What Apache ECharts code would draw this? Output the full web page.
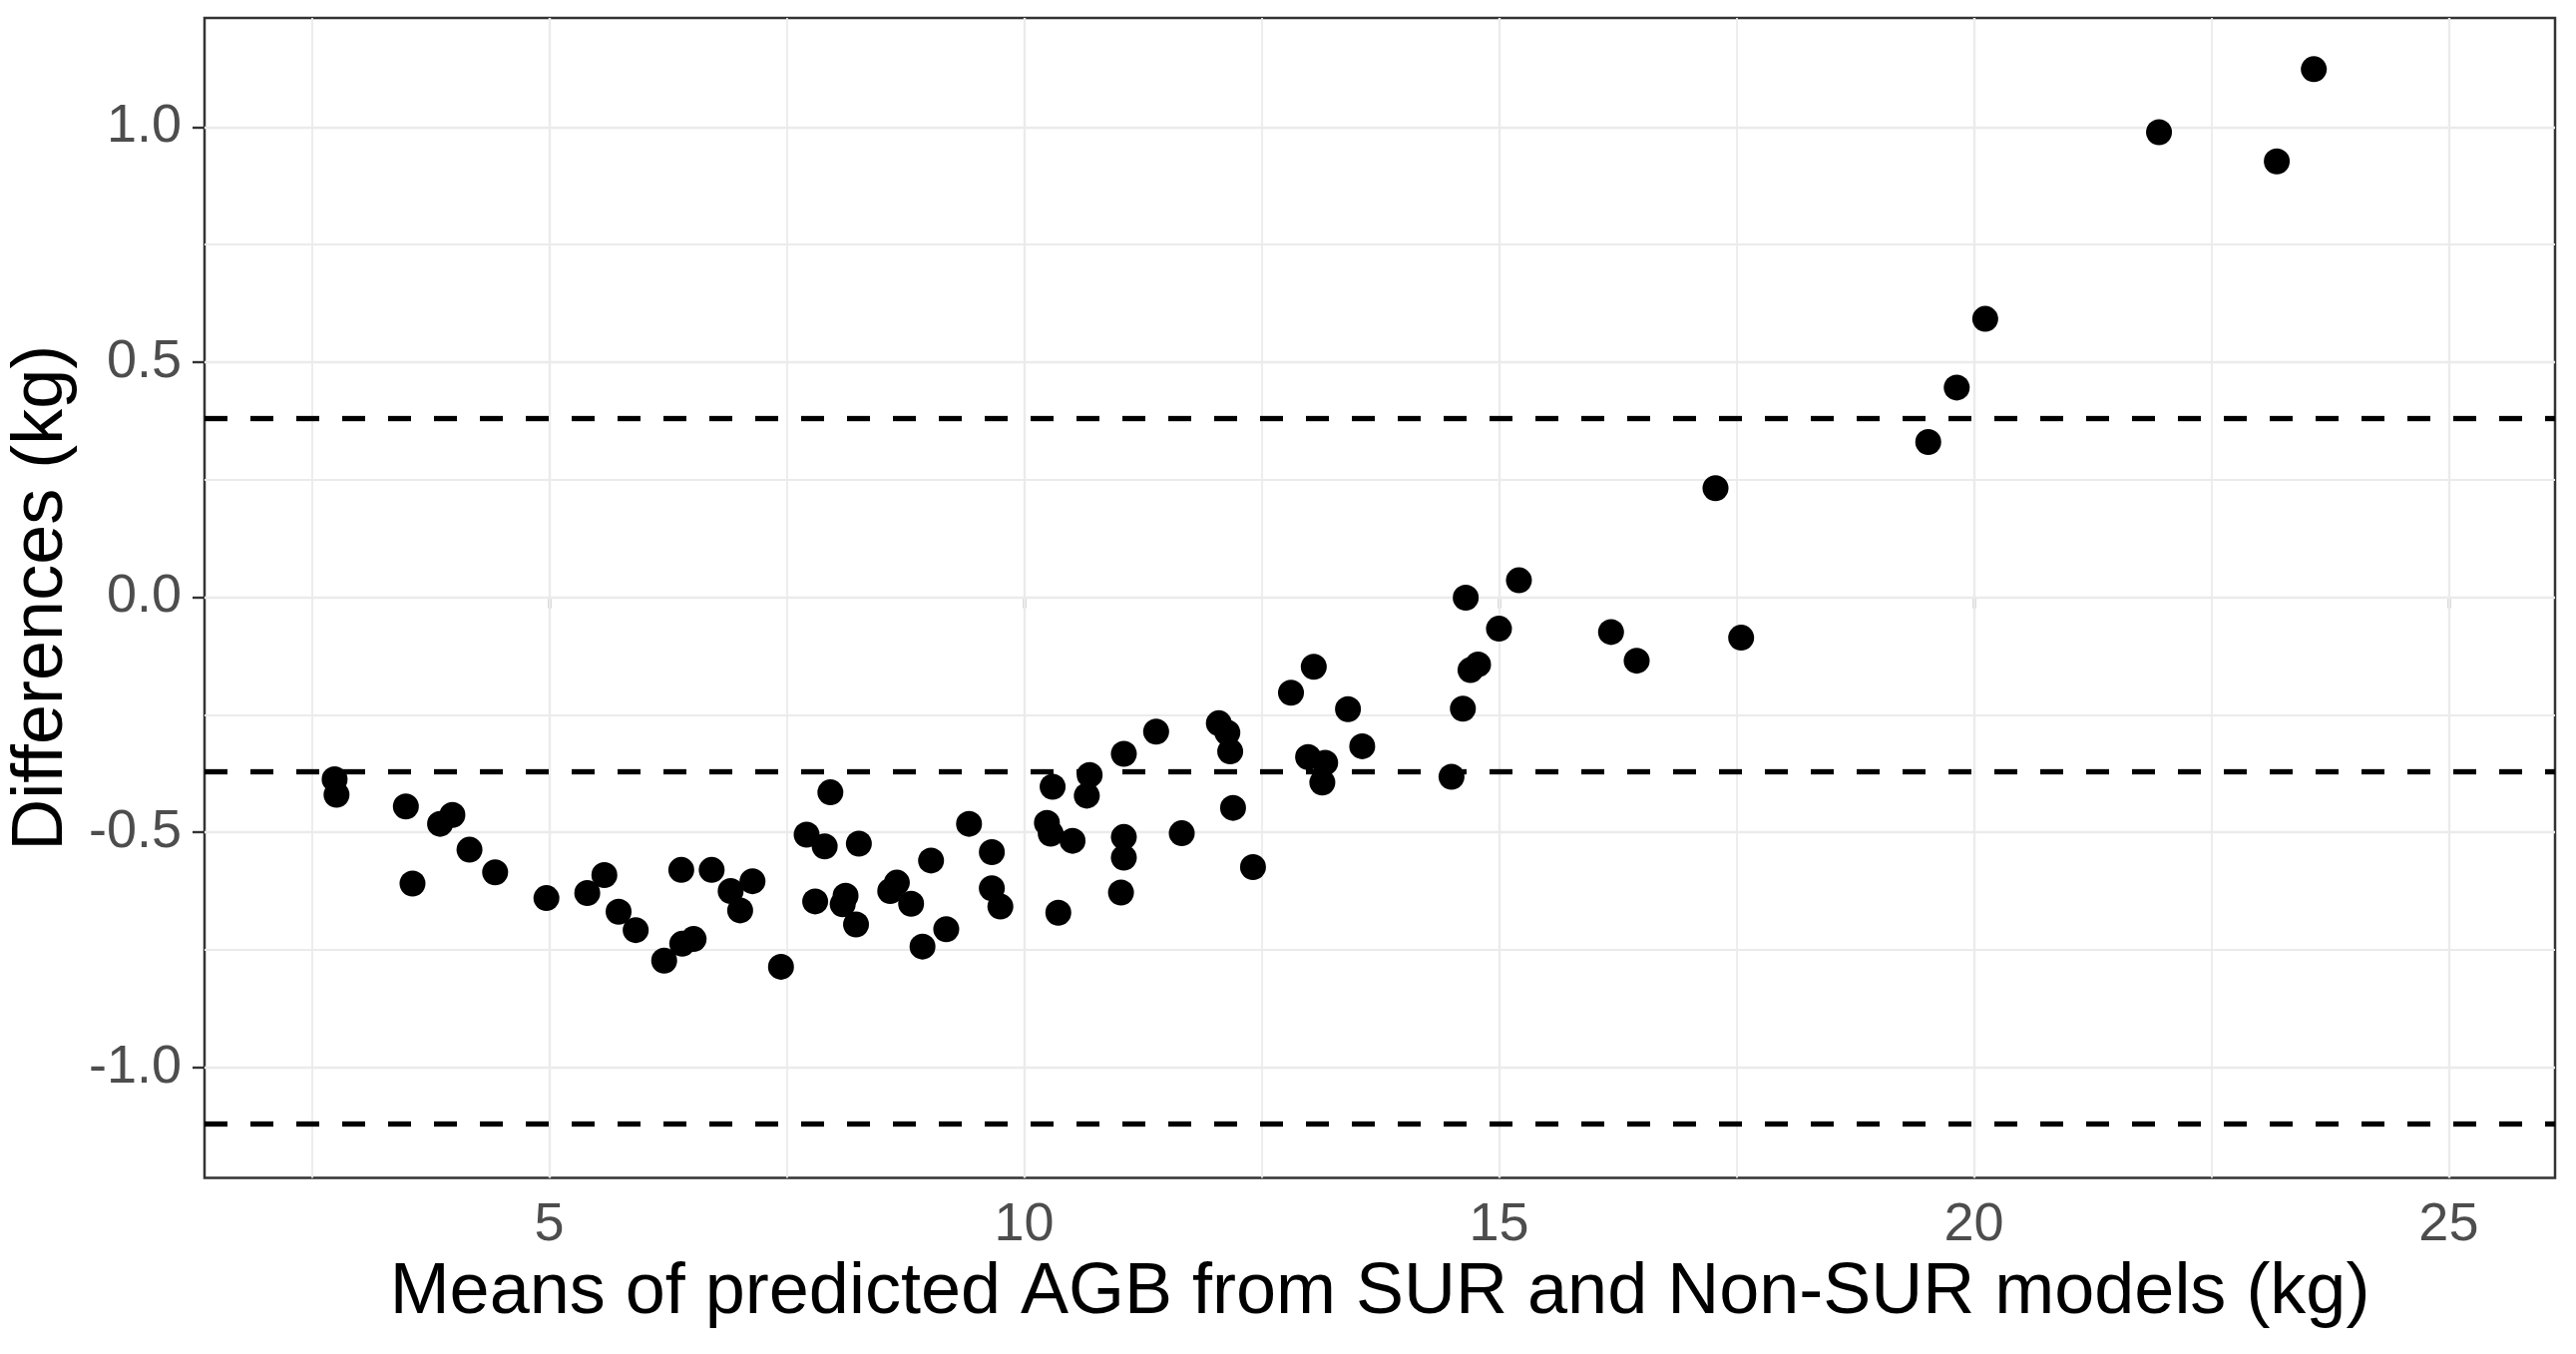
<!DOCTYPE html>
<html>
<head>
<meta charset="utf-8">
<script src="https://cdn.jsdelivr.net/npm/echarts@6/dist/echarts.min.js"></script>
<style>
html, body { margin: 0; padding: 0; background: #ffffff; }
#chart { width: 2582px; height: 1357px; }
</style>
</head>
<body>
<div id="chart"></div>
<script>
// Means of predicted AGB (x) and differences (y)
const meanAGB = [
  2.74, 2.76, 3.49, 3.56, 3.85, 3.98, 4.16, 4.43, 4.97, 5.40,
  5.58, 5.73, 5.91, 6.21, 6.40, 6.52, 6.39, 6.71, 6.91, 7.14,
  7.01, 7.44, 7.96, 7.71, 7.90, 8.26, 7.80, 8.12, 8.09, 8.23,
  8.66, 8.59, 8.81, 9.02, 8.93, 9.18, 9.42, 9.66, 9.66, 9.75,
  10.36, 10.30, 10.24, 10.28, 10.51, 10.69, 10.66, 11.05, 11.39, 11.05,
  11.05, 11.02, 11.66, 12.05, 12.14, 12.17, 12.20, 12.41, 12.81, 13.05,
  13.41, 13.56, 12.99, 13.17, 13.14, 14.50, 14.62, 14.65, 15.21, 15.00,
  14.70, 14.78, 16.18, 16.45, 17.28, 17.55, 19.52, 19.82, 20.12, 21.95,
  23.19, 23.58
];
const diffAGB = [
  -0.387, -0.420, -0.445, -0.609, -0.482, -0.463, -0.537, -0.585, -0.640, -0.629,
  -0.591, -0.669, -0.708, -0.773, -0.737, -0.727, -0.580, -0.580, -0.625, -0.604,
  -0.666, -0.786, -0.415, -0.505, -0.530, -0.524, -0.647, -0.635, -0.653, -0.696,
  -0.607, -0.625, -0.652, -0.560, -0.743, -0.706, -0.482, -0.542, -0.619, -0.658,
  -0.671, -0.403, -0.480, -0.503, -0.518, -0.378, -0.422, -0.333, -0.286, -0.510,
  -0.554, -0.628, -0.502, -0.268, -0.288, -0.328, -0.448, -0.574, -0.203, -0.148,
  -0.238, -0.317, -0.340, -0.352, -0.394, -0.382, -0.237, -0.001, 0.036, -0.067,
  -0.155, -0.143, -0.074, -0.135, 0.232, -0.086, 0.330, 0.446, 0.592, 0.989,
  0.927, 1.123
];
// Reference lines: mean difference and limits of agreement
const meanDiff = -0.374;
const upperLimit = 0.376;
const lowerLimit = -1.124;

// Axis ticks, gridlines and ranges
const xTicks = [5, 10, 15, 20, 25];
const xMinorGrid = [2.5, 7.5, 12.5, 17.5, 22.5];
const yTicks = [-1.0, -0.5, 0.0, 0.5, 1.0];
const yMinorGrid = [-0.75, -0.25, 0.25, 0.75];
const xRange = [1.37, 26.12];
const yRange = [-1.235, 1.232];

const xTitle = 'Means of predicted AGB from SUR and Non-SUR models (kg)';
const yTitle = 'Differences (kg)';

const FONT = "'Liberation Sans', Arial, sans-serif";
const points = meanAGB.map((x, i) => [x, diffAGB[i]]);

const chart = echarts.init(document.getElementById('chart'), null, { renderer: 'canvas' });

const gridMajorStyle = { color: '#EBEBEB', width: 2.4, type: 'solid' };
const gridMinorStyle = { color: '#EBEBEB', width: 1.8, type: 'solid' };

const option = {
  backgroundColor: '#ffffff',
  animation: false,
  grid: {
    left: 205, right: 21, top: 18, bottom: 176.5,
    containLabel: false,
    outerBoundsMode: 'none',
    show: true,
    borderColor: '#333333',
    borderWidth: 2.5,
    backgroundColor: 'transparent'
  },
  xAxis: {
    type: 'value',
    min: xRange[0], max: xRange[1],
    name: xTitle,
    nameLocation: 'middle',
    nameGap: 76,
    nameTextStyle: { color: '#000000', fontSize: 72, fontFamily: FONT },
    axisLine: { show: false },
    axisTick: { show: true, length: 11, customValues: xTicks, lineStyle: { color: '#333333', width: 2.4 } },
    axisLabel: { show: true, customValues: xTicks, margin: 21, color: '#4D4D4D', fontSize: 54, fontFamily: FONT,
      formatter: v => String(v) },
    splitLine: { show: false },
    minorSplitLine: { show: false }
  },
  yAxis: {
    type: 'value',
    min: yRange[0], max: yRange[1],
    name: yTitle,
    nameLocation: 'middle',
    nameGap: 125,
    nameRotate: 90,
    nameTextStyle: { color: '#000000', fontSize: 72, fontFamily: FONT },
    axisLine: { show: false },
    axisTick: { show: true, length: 12, customValues: yTicks, lineStyle: { color: '#333333', width: 2.4 } },
    axisLabel: { show: true, customValues: yTicks, margin: 23, color: '#4D4D4D', fontSize: 54, fontFamily: FONT,
      padding: [10, 0, 0, 0],
      formatter: v => Number(v).toFixed(1) },
    splitLine: { show: false }
  },
  series: [
    {
      name: 'grid',
      type: 'line',
      data: [],
      silent: true,
      z: 1,
      markLine: {
        silent: true,
        symbol: ['none', 'none'],
        label: { show: false },
        emphasis: { disabled: true },
        animation: false,
        z: 1,
        data: [
          ...xMinorGrid.map(v => ({ xAxis: v, lineStyle: gridMinorStyle })),
          ...yMinorGrid.map(v => ({ yAxis: v, lineStyle: gridMinorStyle })),
          ...xTicks.map(v => ({ xAxis: v, lineStyle: gridMajorStyle })),
          ...yTicks.map(v => ({ yAxis: v, lineStyle: gridMajorStyle }))
        ]
      }
    },
    {
      name: 'limits',
      type: 'line',
      data: [],
      silent: true,
      z: 3,
      markLine: {
        silent: true,
        symbol: ['none', 'none'],
        label: { show: false },
        emphasis: { disabled: true },
        animation: false,
        z: 3,
        lineStyle: { color: '#000000', width: 5.3, type: [23, 23] },
        data: [
          { yAxis: upperLimit },
          { yAxis: meanDiff },
          { yAxis: lowerLimit }
        ]
      }
    },
    {
      name: 'points',
      type: 'scatter',
      data: points,
      symbol: 'circle',
      symbolSize: 26,
      z: 10,
      itemStyle: { color: '#000000', opacity: 1 },
      emphasis: { disabled: true },
      silent: true
    }
  ]
};

chart.setOption(option);
</script>
</body>
</html>
